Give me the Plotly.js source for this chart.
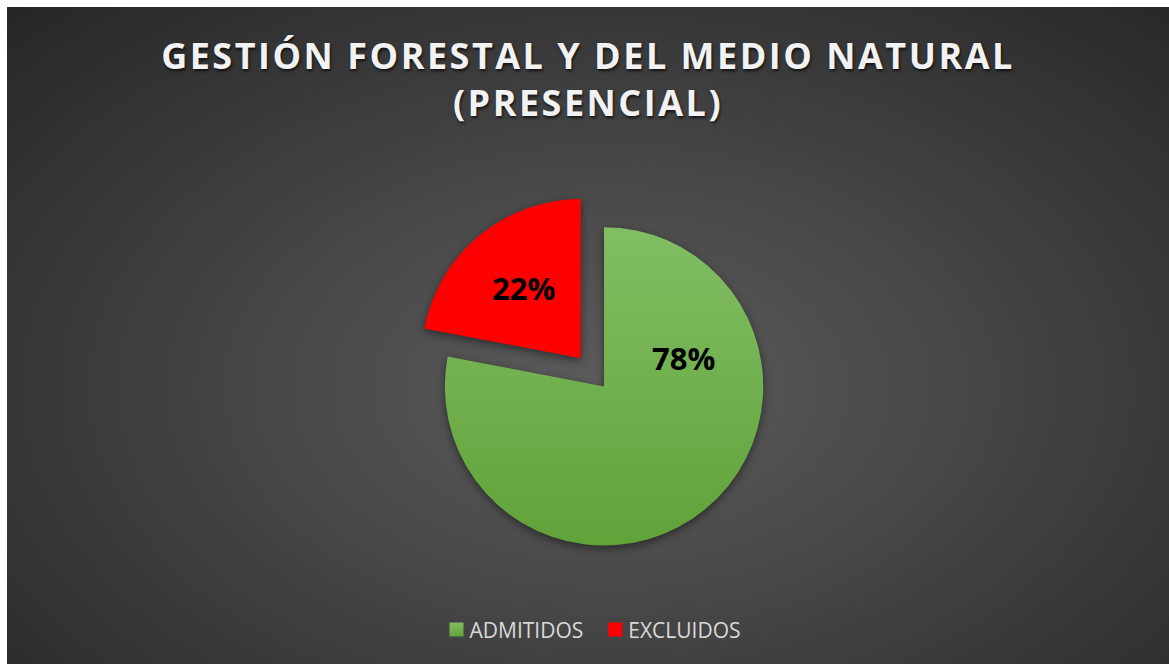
<!DOCTYPE html>
<html>
<head>
<meta charset="utf-8">
<script src="https://cdn.plot.ly/plotly-3.0.1.min.js"></script>
<style>
  body { margin: 0; background: #ffffff; }
  #chart {
    position: absolute; left: 7px; top: 7px; width: 1162px; height: 657px;
    background: radial-gradient(ellipse farthest-corner at 52% 58%, #5c5c5c 0%, #4a4a4a 35%, #262626 100%);
  }
  #chart .gtitle { letter-spacing: 2.5px; }
  #chart .legendpoints path { transform: translate(27px, 0px) scale(1.17); }
  #chart .pielayer { filter: drop-shadow(0px 3px 4px rgba(0,0,0,0.45)); }
  #chart .pielayer .slice:nth-child(1) path.surface { fill: url(#greenGrad) !important; }
  #chart .legend .traces:nth-child(1) .legendpoints path { fill: url(#greenGrad) !important; }
</style>
</head>
<body>
<svg width="0" height="0" style="position:absolute">
  <defs>
    <linearGradient id="greenGrad" x1="0" y1="0" x2="0" y2="1">
      <stop offset="0" stop-color="#81be64"/>
      <stop offset="1" stop-color="#61a239"/>
    </linearGradient>
  </defs>
</svg>
<div id="chart"></div>
<script>
// Slices of the pie
const labels = ['ADMITIDOS', 'EXCLUIDOS'];
const values = [78, 22];
const colors = ['#70AD47', '#FF0000'];
const pulls = [0, 0.23];

// where the percentage labels sit (paper fractions)
const labelX = [0.5826, 0.4441];
const labelY = [0.4658, 0.5723];

const total = values.reduce((a, b) => a + b, 0);

const trace = {
    type: 'pie',
    labels: labels,
    values: values,
    sort: false,
    direction: 'clockwise',
    rotation: 0,
    pull: pulls,
    marker: { colors: colors, line: { width: 0 } },
    textinfo: 'none',
    hoverinfo: 'label+percent',
    domain: { x: [0.3453, 0.6823], y: [0.1245, 0.7205] }
};

const annotations = values.map((v, i) => ({
    text: Math.round(v / total * 100) + '%',
    xref: 'paper', yref: 'paper',
    x: labelX[i], y: labelY[i],
    xanchor: 'center', yanchor: 'middle',
    showarrow: false,
    font: { family: 'Open Sans', size: 31, weight: 'bold', color: '#000000' }
}));

const layout = {
    width: 1162,
    height: 657,
    margin: { l: 0, r: 0, t: 0, b: 0 },
    paper_bgcolor: 'rgba(0,0,0,0)',
    plot_bgcolor: 'rgba(0,0,0,0)',
    title: {
        text: 'GESTIÓN FORESTAL Y DEL MEDIO NATURAL<br>(PRESENCIAL)',
        font: { family: 'Open Sans', size: 36, weight: 'bold', color: '#f2f2f2', shadow: '1px 2px 3px rgba(0,0,0,0.7)' },
        x: 0.5,
        xanchor: 'center',
        yref: 'container',
        y: 0.905,
        yanchor: 'top'
    },
    annotations: annotations,
    showlegend: true,
    legend: {
        orientation: 'h',
        x: 0.5,
        xanchor: 'center',
        y: 0.052,
        yanchor: 'middle',
        font: { family: 'Open Sans', size: 21, color: '#d9d9d9' },
        bgcolor: 'rgba(0,0,0,0)'
    }
};

Plotly.newPlot('chart', [trace], layout, { displayModeBar: false });
</script>
</body>
</html>
